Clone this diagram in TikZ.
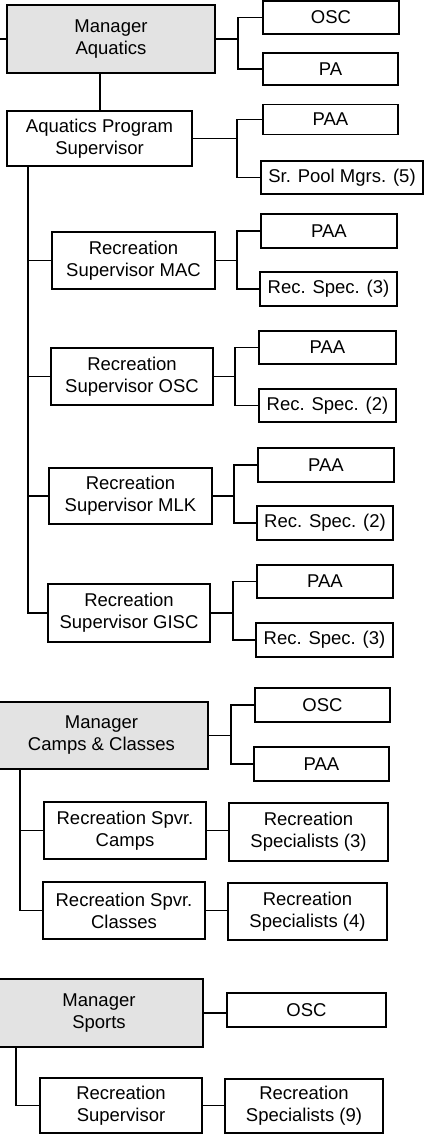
\documentclass[tikz,border=0pt]{standalone}
\usepackage{fontspec}
\setmainfont{Liberation Sans}
\begin{document}
\begin{tikzpicture}[x=1pt,y=-1pt,
  box/.style={draw, line width=1.4pt, inner sep=0pt, align=center,
              font=\fontsize{18.5}{22}\selectfont},
  mgr/.style={box, fill=black!11},
  sz/.style 2 args={minimum width=#1pt, minimum height=#2pt},
  link/.style={line width=1.2pt}]
\useasboundingbox (0,0) rectangle (429,1135);

% ---------- Aquatics ----------
\node[mgr, sz={208}{68}] (MA) at (111,39) {Manager\\Aquatics};
\node[box, sz={136}{33}] (OSC1) at (331,17.5) {OSC};
\node[box, sz={135}{32}] (PA) at (330.5,69) {PA};
\node[box, sz={185}{55}] (APS) at (99.5,138.5) {Aquatics Program\\Supervisor};
\node[box, sz={135}{30}] (PAA1) at (330.5,119.5) {PAA};
\node[box, sz={162}{33}] (SPM) at (342,177.5) {Sr. Pool Mgrs. (5)};

\node[box, sz={163}{57}] (MAC) at (133.5,260.5) {Recreation\\Supervisor MAC};
\node[box, sz={136}{34}] (PAA2) at (329,231) {PAA};
\node[box, sz={137}{34}] (RS3a) at (328.5,289) {Rec. Spec. (3)};

\node[box, sz={162}{57}] (OSCS) at (132,376.5) {Recreation\\Supervisor OSC};
\node[box, sz={137}{33}] (PAA3) at (327.5,347.5) {PAA};
\node[box, sz={137}{33}] (RS2a) at (327.5,405.5) {Rec. Spec. (2)};

\node[box, sz={163}{56}] (MLK) at (130.5,496) {Recreation\\Supervisor MLK};
\node[box, sz={136}{34}] (PAA4) at (326,465) {PAA};
\node[box, sz={136}{34}] (RS2b) at (325,523) {Rec. Spec. (2)};

\node[box, sz={162}{58}] (GISC) at (129,613) {Recreation\\Supervisor GISC};
\node[box, sz={136}{33}] (PAA5) at (325,581.5) {PAA};
\node[box, sz={137}{34}] (RS3b) at (324.5,640) {Rec. Spec. (3)};

% ---------- Camps & Classes ----------
\node[mgr, sz={213}{67}] (MCC) at (101.5,735.5) {Manager\\Camps \& Classes};
\node[box, sz={135}{34}] (OSC2) at (322.5,705) {OSC};
\node[box, sz={135}{34}] (PAA6) at (321.5,764) {PAA};
\node[box, sz={162}{57}] (CAMP) at (125,830.5) {Recreation Spvr.\\Camps};
\node[box, sz={159}{58}] (RSP3) at (308.5,832) {Recreation\\Specialists (3)};
\node[box, sz={162}{57}] (CLAS) at (124,910.5) {Recreation Spvr.\\Classes};
\node[box, sz={159}{57}] (RSP4) at (307.5,911.5) {Recreation\\Specialists (4)};

% ---------- Sports ----------
\node[mgr, sz={208}{68}] (MS) at (99,1013) {Manager\\Sports};
\node[box, sz={159}{34}] (OSC3) at (306.5,1010) {OSC};
\node[box, sz={162}{55}] (RSUP) at (121,1105.5) {Recreation\\Supervisor};
\node[box, sz={158}{54}] (RSP9) at (304,1106) {Recreation\\Specialists (9)};

% ---------- connectors ----------
\coordinate (stubA) at (0,39);
\draw[link] (stubA) -- (MA.west);

\coordinate (bA) at (238,0);
\draw[link] (MA.east) -- (MA.east -| bA);
\draw[link] (OSC1.west) -- (OSC1.west -| bA) -- (PA.west -| bA) -- (PA.west);

\coordinate (vA) at (100,0);
\draw[link] (MA.south -| vA) -- (APS.north -| vA);

\coordinate (bB) at (237,0);
\draw[link] (APS.east) -- (APS.east -| bB);
\draw[link] (PAA1.west) -- (PAA1.west -| bB) -- (SPM.west -| bB) -- (SPM.west);

\coordinate (sA) at (28,0);
\draw[link] (APS.south -| sA) -- (GISC.west -| sA) -- (GISC.west);
\draw[link] (MAC.west -| sA) -- (MAC.west);
\draw[link] (OSCS.west -| sA) -- (OSCS.west);
\draw[link] (MLK.west -| sA) -- (MLK.west);

\coordinate (bC) at (237,0);
\draw[link] (MAC.east) -- (MAC.east -| bC);
\draw[link] (PAA2.west) -- (PAA2.west -| bC) -- (RS3a.west -| bC) -- (RS3a.west);

\coordinate (bD) at (235,0);
\draw[link] (OSCS.east) -- (OSCS.east -| bD);
\draw[link] (PAA3.west) -- (PAA3.west -| bD) -- (RS2a.west -| bD) -- (RS2a.west);

\coordinate (bE) at (234,0);
\draw[link] (MLK.east) -- (MLK.east -| bE);
\draw[link] (PAA4.west) -- (PAA4.west -| bE) -- (RS2b.west -| bE) -- (RS2b.west);

\coordinate (bF) at (233,0);
\draw[link] (GISC.east) -- (GISC.east -| bF);
\draw[link] (PAA5.west) -- (PAA5.west -| bF) -- (RS3b.west -| bF) -- (RS3b.west);

\coordinate (bG) at (231,0);
\draw[link] (MCC.east) -- (MCC.east -| bG);
\draw[link] (OSC2.west) -- (OSC2.west -| bG) -- (PAA6.west -| bG) -- (PAA6.west);

\coordinate (sB) at (20,0);
\draw[link] (MCC.south -| sB) -- (CLAS.west -| sB) -- (CLAS.west);
\draw[link] (CAMP.west -| sB) -- (CAMP.west);
\draw[link] (CAMP.east) -- (RSP3.west |- CAMP.east);
\draw[link] (CLAS.east) -- (RSP4.west |- CLAS.east);

\draw[link] (MS.east) -- (OSC3.west |- MS.east);
\coordinate (sC) at (16,0);
\draw[link] (MS.south -| sC) -- (RSUP.west -| sC) -- (RSUP.west);
\draw[link] (RSUP.east) -- (RSP9.west |- RSUP.east);
\end{tikzpicture}
\end{document}
